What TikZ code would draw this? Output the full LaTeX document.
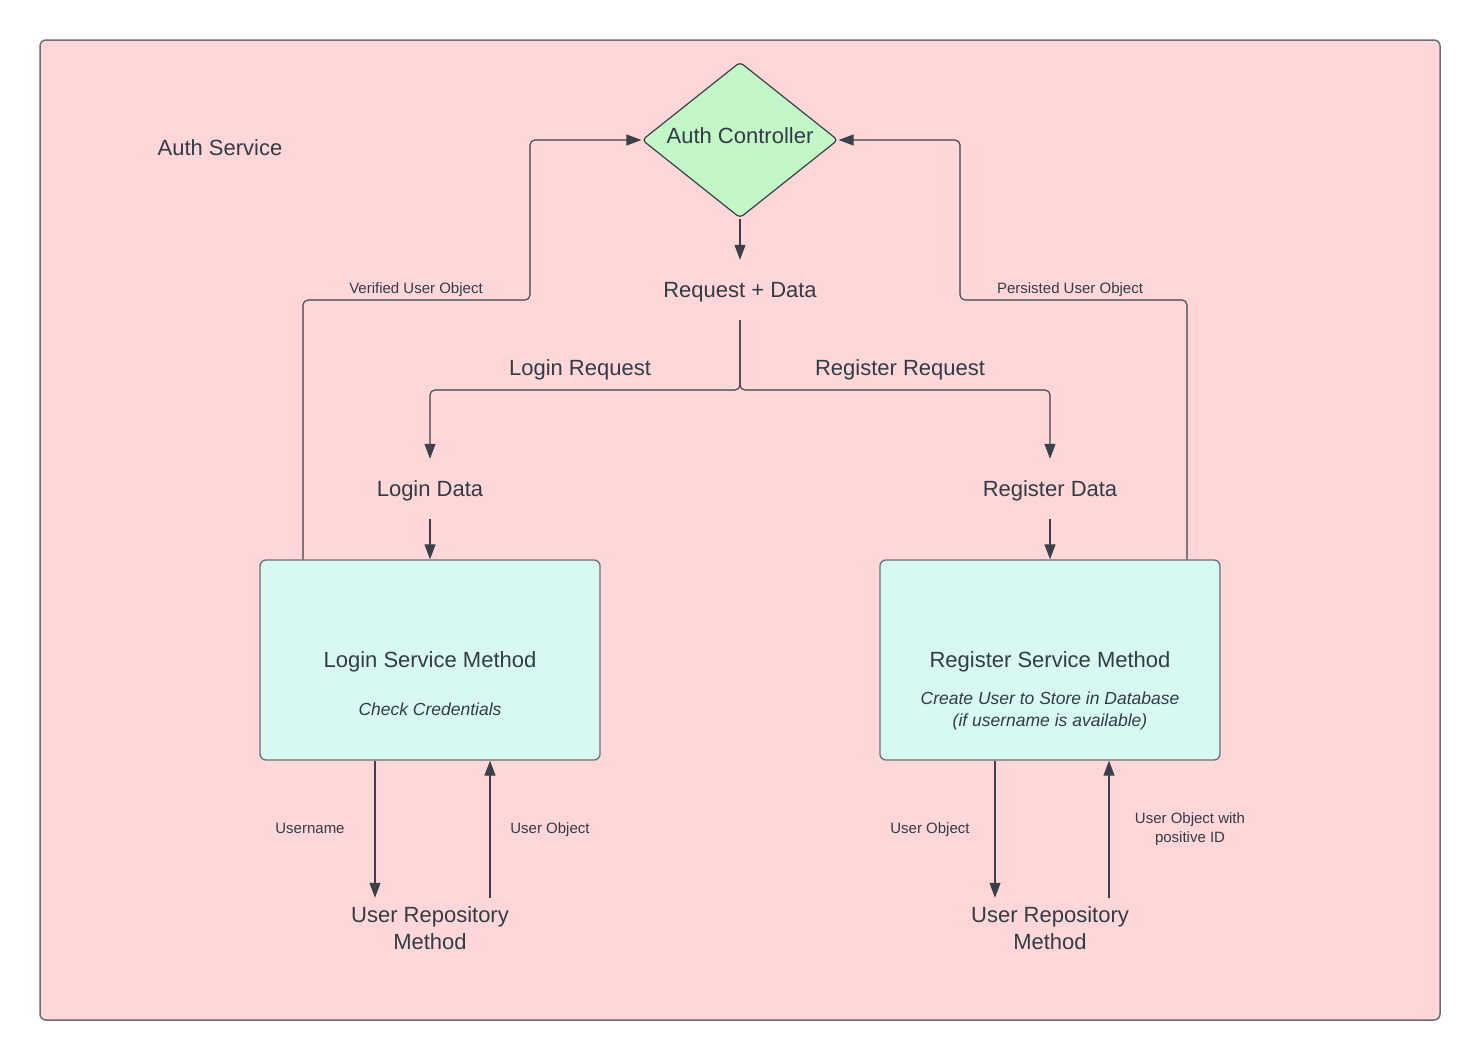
\documentclass[tikz,border=0pt]{standalone}
\usepackage{fontspec}
\setmainfont{Liberation Sans}
\usetikzlibrary{shapes.geometric,arrows.meta}
\definecolor{pinkc}{HTML}{FFD7D8}
\definecolor{greenc}{HTML}{C3F7C8}
\definecolor{cyanc}{HTML}{D7F9F2}
\definecolor{linec}{HTML}{3A414A}
\definecolor{borderc}{HTML}{6B6E76}
\definecolor{textc}{HTML}{333B47}
\begin{document}
\begin{tikzpicture}[x=1pt,y=-1pt,
  big/.style={font=\fontsize{22}{27}\selectfont, text=textc, align=center, inner sep=0pt, text depth=0pt},
  small/.style={font=\fontsize{15}{19}\selectfont, text=textc, align=center, inner sep=0pt, text depth=0pt},
  ital/.style={font=\fontsize{17.5}{22}\selectfont\itshape, text=textc, align=center, inner sep=0pt, text depth=0pt},
  conn/.style={draw=linec, line width=1.1pt, rounded corners=5pt, -{Triangle[length=15pt,width=11pt]}},
  svcbox/.style={draw=borderc, line width=1.3pt, fill=cyanc, rounded corners=6pt, minimum width=340pt, minimum height=200pt, inner sep=0pt},
  txtslot/.style={minimum height=60pt}
]
\useasboundingbox (0,0) rectangle (1480,1060);
\fill[white] (0,0) rectangle (1480,1060);
\draw[draw=borderc, line width=1.5pt, fill=pinkc, rounded corners=6pt] (40,40) rectangle (1440,1020);

\node[big] (svc) at (220,148) {Auth Service};

\node[diamond, draw=linec, fill=greenc, line width=1.2pt, minimum width=196pt, minimum height=156pt, big, inner sep=-8pt, rounded corners=4pt, text depth=8pt] (ctrl) at (740,140) {Auth Controller};

\node[big, txtslot] (reqdata) at (740,290) {Request + Data};
\coordinate (split) at (740,390);
\node[big] (loginreq) at (580,368) {Login Request};
\node[big] (regreq) at (900,368) {Register Request};

\node[big, txtslot] (logindata) at (430,489) {Login Data};
\node[big, txtslot] (regdata) at (1050,489) {Register Data};

\node[svcbox, big] (login) at (430,660) {Login Service Method};
\node[svcbox, big] (register) at (1050,660) {Register Service Method};
\node[ital] (logsub) at (430,709) {Check Credentials};
\node[ital] (regsub) at (1050,709) {Create User to Store in Database\\(if username is available)};

\node[big, txtslot] (repoL) at (430,928) {User Repository\\Method};
\node[big, txtslot] (repoR) at (1050,928) {User Repository\\Method};

\node[small] (lblV) at (416,288) {Verified User Object};
\node[small] (lblP) at (1070,288) {Persisted User Object};
\node[small] (lblU) at (310,828) {Username};
\node[small] (lblUO) at (550,828) {User Object};
\node[small] (lblRO) at (930,828) {User Object};
\node[small] (lblPI) at (1190,828) {User Object with\\positive ID};

% connectors
\draw[conn] (ctrl.south) -- (reqdata.north);
\draw[conn] (reqdata.south) -- (split) -| (logindata.north);
\draw[conn] (reqdata.south) -- (split) -| (regdata.north);
\draw[conn] (logindata.south) -- (login.north);
\draw[conn] (regdata.south) -- (register.north);

\draw[conn] ([xshift=-127pt]login.north) |- (530,300) |- (ctrl.west);
\draw[conn] ([xshift=137pt]register.north) |- (960,300) |- (ctrl.east);

\draw[conn] ([xshift=-55pt]login.south) -- ([xshift=-55pt]repoL.north);
\draw[conn] ([xshift=60pt]repoL.north) -- ([xshift=60pt]login.south);
\draw[conn] ([xshift=-55pt]register.south) -- ([xshift=-55pt]repoR.north);
\draw[conn] ([xshift=59pt]repoR.north) -- ([xshift=59pt]register.south);
\end{tikzpicture}
\end{document}
